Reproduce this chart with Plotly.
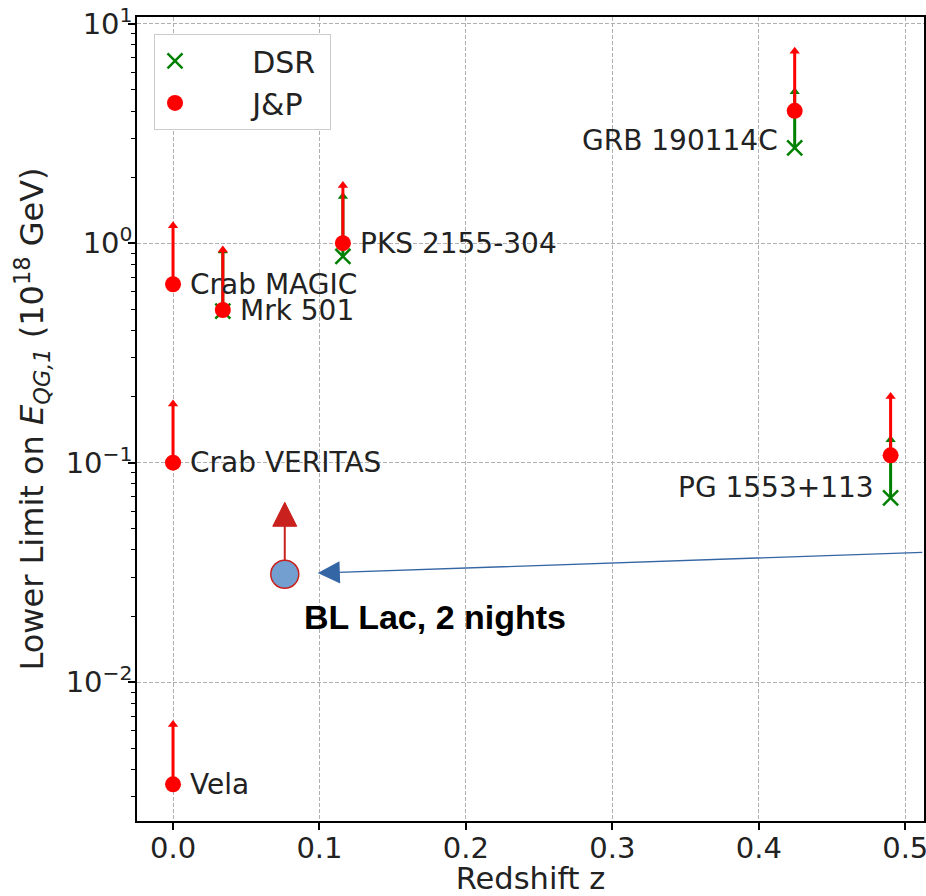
import math
import plotly.graph_objects as go

# ---- data ----
jp_names = ["Crab MAGIC", "Mrk 501", "PKS 2155-304", "Crab VERITAS", "Vela", "GRB 190114C", "PG 1553+113"]
jp_z = [0.0, 0.034, 0.116, 0.0, 0.0, 0.4245, 0.49]
jp_val = [0.65, 0.496, 1.0, 0.1, 0.00342, 4.01, 0.108]
jp_top = [1.2, 0.93, 1.83, 0.185, 0.0064, 7.5, 0.2]

dsr_z = [0.034, 0.116, 0.4245, 0.49]
dsr_val = [0.49, 0.87, 2.72, 0.069]
dsr_top = [0.92, 1.63, 4.9, 0.127]

label_text = ["Crab MAGIC", "Mrk 501", "PKS 2155-304", "Crab VERITAS", "Vela", "GRB 190114C", "PG 1553+113"]
label_z = [0.0, 0.034, 0.116, 0.0, 0.0, 0.4245, 0.49]
label_y = [0.65, 0.496, 1.0, 0.1, 0.00342, 2.95, 0.0774]
label_side = ["left", "left", "left", "left", "left", "right", "right"]

bl_z = [0.0763]
bl_val = [0.031]
bl_text = "BL Lac, 2 nights"
bl_text_z = 0.088
bl_text_y = 0.0198

x_ticks = [0.0, 0.1, 0.2, 0.3, 0.4, 0.5]
y_ticks = [0.01, 0.1, 1, 10]
y_ticktext = ["10<sup>\u22122</sup>", "10<sup>\u22121</sup>", "10<sup>0</sup>", "10<sup>1</sup>"]

RED = "#ff0000"
GREEN = "#008000"
FONT = "DejaVu Sans"
PAD = "\u00a0" * 6

fig = go.Figure()

# DSR
fig.add_trace(go.Scatter(
    x=dsr_z, y=dsr_val, mode="markers", name=PAD + "DSR\u00a0",
    marker=dict(symbol="x-thin", size=15, line=dict(color=GREEN, width=2.5), color=GREEN),
    error_y=dict(type="data", symmetric=False,
                 array=[t - v for t, v in zip(dsr_top, dsr_val)],
                 arrayminus=[0] * len(dsr_val), color=GREEN, thickness=3, width=0),
))
fig.add_trace(go.Scatter(
    x=dsr_z, y=dsr_top, mode="markers", showlegend=False, hoverinfo="skip",
    marker=dict(symbol="triangle-up", size=9, color=GREEN),
))
# J&P
fig.add_trace(go.Scatter(
    x=jp_z, y=jp_val, mode="markers", name=PAD + "J&P",
    marker=dict(symbol="circle", size=16, color=RED),
    error_y=dict(type="data", symmetric=False,
                 array=[t - v for t, v in zip(jp_top, jp_val)],
                 arrayminus=[0] * len(jp_val), color=RED, thickness=3, width=0),
))
fig.add_trace(go.Scatter(
    x=jp_z, y=jp_top, mode="markers", showlegend=False, hoverinfo="skip",
    marker=dict(symbol="triangle-up", size=9, color=RED),
))
# BL Lac point
fig.add_trace(go.Scatter(
    x=bl_z, y=bl_val, mode="markers", showlegend=False,
    marker=dict(symbol="circle", size=28, color="#729fcf", line=dict(color="#c9211e", width=1.5)),
))

# labels (annotation y on a log axis is given as log10)
for t, z, y, side in zip(label_text, label_z, label_y, label_side):
    fig.add_annotation(x=z, y=math.log10(y), yref="y", xref="x", text=t, showarrow=False,
                       xanchor=side, yanchor="middle",
                       xshift=15 if side == "left" else -15,
                       font=dict(family=FONT, size=28, color="#222222"))

# BL Lac red up arrow (pixel-sized relative to point)
fig.add_shape(type="line", xref="x", yref="y", xsizemode="pixel", ysizemode="pixel",
              xanchor=bl_z[0], yanchor=bl_val[0], x0=0, x1=0, y0=14, y1=49,
              line=dict(color="#c9211e", width=2), layer="above")
fig.add_shape(type="path", xref="x", yref="y", xsizemode="pixel", ysizemode="pixel",
              xanchor=bl_z[0], yanchor=bl_val[0], path="M -12,48 L 12,48 L 0,72 Z",
              fillcolor="#c9211e", line=dict(color="#c9211e", width=1), layer="above")

# blue pointer arrow
fig.add_annotation(x=bl_z[0], y=math.log10(bl_val[0]), xref="x", yref="y", text="",
                   showarrow=True, ax=639, ay=-22, standoff=33,
                   arrowhead=2, arrowsize=3.4, arrowwidth=1.3, arrowcolor="#3465a4")
fig.add_annotation(x=bl_text_z, y=math.log10(bl_text_y), xref="x", yref="y", text="<b>" + bl_text + "</b>",
                   showarrow=False, xanchor="left", yanchor="middle",
                   font=dict(family="Liberation Sans", size=34, color="#000000"))

axis_common = dict(
    showline=True, linecolor="black", linewidth=1.5, mirror=True,
    ticks="outside", ticklen=7, tickwidth=1.5, tickcolor="black",
    showgrid=True, gridcolor="#b0b0b0", gridwidth=1, griddash="4px,2px",
    zeroline=False, automargin=False, ticklabeloverflow="allow",
    tickfont=dict(family=FONT, size=29, color="#222222"),
)

fig.update_xaxes(
    range=[-0.0246, 0.5128], tickvals=x_ticks, ticktext=[f"{v:.1f}" for v in x_ticks],
    ticklabelstandoff=-7,
    title=dict(text="Redshift z", font=dict(family=FONT, size=30.5, color="#222222"), standoff=5),
    **axis_common,
)
fig.update_yaxes(
    type="log", range=[-2.633, 1.0306], tickvals=y_ticks, ticktext=y_ticktext,
    ticklabelstandoff=-10,
    title=dict(text="Lower Limit on <i>E<sub>QG,1</sub></i> (10<sup>18</sup> GeV)",
               font=dict(family=FONT, size=32, color="#222222"), standoff=12),
    minor=dict(ticks="outside", ticklen=4, tickwidth=1, tickcolor="black", dtick="D1", showgrid=False),
    **axis_common,
)

fig.update_layout(
    width=926, height=896,
    margin=dict(l=137.3, r=2, t=17.3, b=75.3),
    plot_bgcolor="white", paper_bgcolor="white",
    showlegend=True,
    legend=dict(x=0.0216, y=0.979, xanchor="left", yanchor="top",
                bgcolor="white", bordercolor="#cccccc", borderwidth=1,
                font=dict(family=FONT, size=30, color="#222222"),
                itemwidth=30),
)

fig.write_html(
    "out.html",
    config={"displayModeBar": False},
    post_script="document.body.style.margin='0';document.body.style.overflow='hidden';",
)
